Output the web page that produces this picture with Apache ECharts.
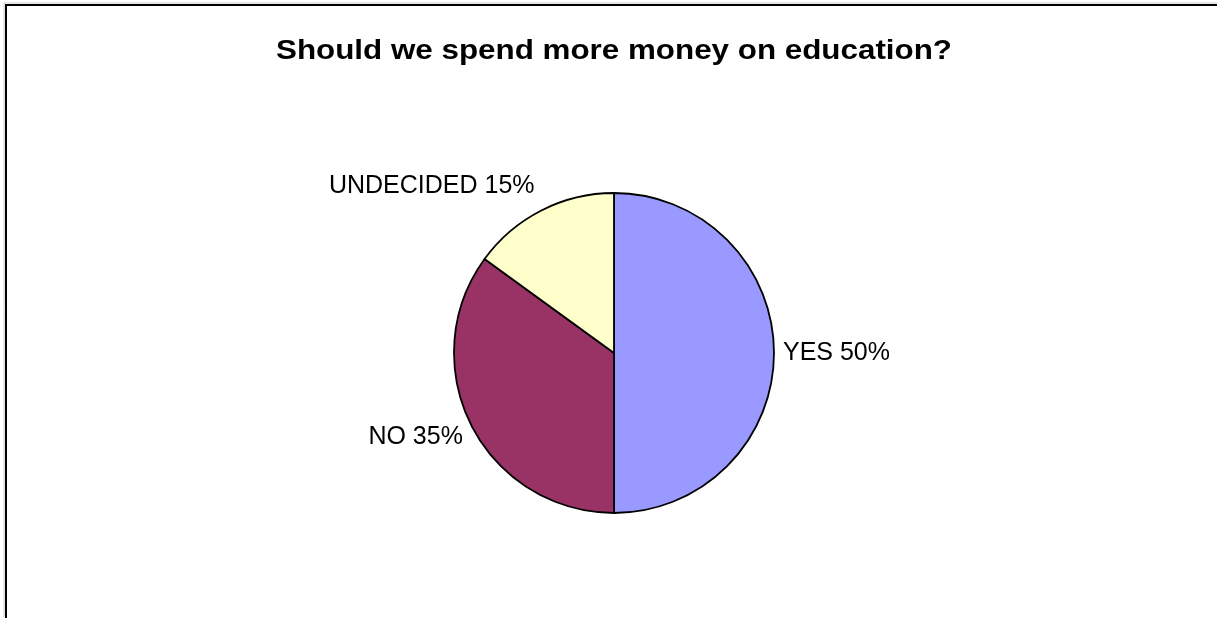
<!DOCTYPE html>
<html>
<head>
<meta charset="utf-8">
<script src="https://cdn.jsdelivr.net/npm/echarts@6/dist/echarts.min.js"></script>
<style>
html,body{margin:0;padding:0;background:#fff;}
#chart{width:1217px;height:618px;}
</style>
</head>
<body>
<div id="chart"></div>
<script>
const titleText = 'Should we spend more money on education?';
const categories = ['YES', 'NO', 'UNDECIDED'];
const values = [50, 35, 15];
const colors = ['#9999FF', '#993366', '#FFFFCC'];

const chart = echarts.init(document.getElementById('chart'), null, {renderer: 'canvas'});
const labelShift = [[0, 0], [0, 10], [0, -21]];
chart.setOption({
  backgroundColor: '#ffffff',
  animation: false,
  graphic: [
    {type: 'rect', shape: {x: 6, y: 5, width: 1400, height: 900}, style: {fill: 'none', stroke: '#000', lineWidth: 2}, z: 100},
    {type: 'line', shape: {x1: 4, y1: 3, x2: 1217, y2: 3}, style: {stroke: '#cccccc', lineWidth: 1}, z: 99},
    {type: 'line', shape: {x1: 4, y1: 3, x2: 4, y2: 618}, style: {stroke: '#cccccc', lineWidth: 1}, z: 99},
    {
      type: 'text', x: 614, y: 37, scaleX: 1.12, scaleY: 1,
      style: {
        text: titleText, textAlign: 'center', textVerticalAlign: 'top',
        font: 'bold 28px "Liberation Sans", Arial, sans-serif', fill: '#000'
      },
      z: 50
    }
  ],
  series: [{
    type: 'pie',
    center: [614, 353],
    radius: [0, 160],
    startAngle: 90,
    clockwise: true,
    data: categories.map((c, i) => ({name: c, value: values[i], itemStyle: {color: colors[i]}})),
    itemStyle: {borderColor: '#000', borderWidth: 1.8},
    label: {
      show: true,
      position: 'outside',
      formatter: p => p.name + ' ' + p.value + '%',
      fontFamily: '"Liberation Sans", Arial, sans-serif',
      fontSize: 25,
      color: '#000'
    },
    labelLine: {show: false, length: 4, length2: 0},
    labelLayout: function (params) {
      const s = labelShift[params.dataIndex] || [0, 0];
      return {dx: s[0], dy: s[1]};
    },
    emphasis: {disabled: true}
  }]
});
</script>
</body>
</html>
